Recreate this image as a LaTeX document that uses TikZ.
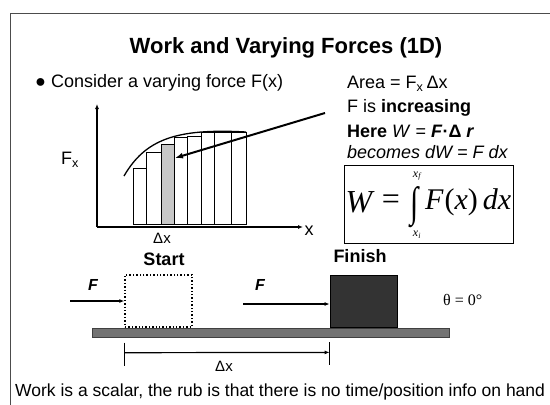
\documentclass[tikz,border=0pt]{standalone}
\usepackage{fontspec}
\setmainfont{Liberation Sans}
\newfontfamily\tmfont{Liberation Serif}
\usetikzlibrary{arrows.meta,positioning,calc}
\tikzset{
  wkframe/.style={line width=1.5pt, draw=black!70},
  wkaxis/.style={line width=1.1pt, draw=black, -{Latex[length=5pt,width=4pt]}},
  wkbar/.style={fill=white, draw=black, line width=0.6pt},
  wkshade/.style={fill=black!22, draw=black, line width=0.6pt},
  wkcurve/.style={line width=1.3pt, draw=black},
  wkpush/.style={line width=1.5pt, draw=black, -{Latex[length=5pt,width=4pt]}},
  wkpoint/.style={line width=2pt, draw=black, -{Latex[length=8pt,width=6pt]}},
  wktext/.style={font=\fontsize{18}{21}\selectfont, inner sep=0pt},
  wksmall/.style={font=\fontsize{15}{17}\selectfont, inner sep=0pt},
  wkmath/.style={font=\tmfont\fontsize{32}{36}\selectfont\itshape, inner sep=0pt},
  wklimit/.style={font=\tmfont\itshape\fontsize{12}{12}\selectfont, inner sep=0pt},
  wkground/.style={fill=black!55, draw=black!75, line width=1pt},
  wkblock/.style={fill=black!80, draw=black, line width=0.8pt},
  wkghost/.style={draw=black, line width=1.4pt, dotted},
  wklabel/.style={font=\bfseries\fontsize{18}{21}\selectfont, inner sep=0pt},
  wkforce/.style={font=\bfseries\itshape\fontsize{16}{18}\selectfont, inner sep=0pt},
}
\begin{document}
\begin{tikzpicture}[x=1pt,y=-1pt]
\useasboundingbox (0,0) rectangle (550,405);
% slide frame
\draw[wkframe] (10.5,405) -- (10.5,13.5) -- (550,13.5);
\node[font=\bfseries\fontsize{22}{25}\selectfont, inner sep=0pt] (title) at (286,48) {Work and Varying Forces (1D)};
\node[wktext, anchor=west] (bullet) at (35,83) {{\fontsize{18}{21}\selectfont ●}\kern5pt Consider a varying force F(x)};
% notes on the right
\node[wktext, anchor=west] (area) at (347,84) {Area = F\textsubscript{x}\,Δx};
\node[wktext, anchor=west] (incr) at (347,108) {F is \textbf{increasing}};
\node[wktext, anchor=west] (here) at (347,131) {\textbf{Here} \textit{W} = \textbf{\textit{F}·Δ \textit{r}}};
\node[wktext, anchor=west, font=\itshape\fontsize{18}{21}\selectfont] (dw) at (347,152) {becomes dW = F dx};
% formula box
\draw[line width=0.8pt] (344,165) rectangle (513,243);
\node[wkmath] (wsym) at (359,202) {W};
\node[font=\tmfont\fontsize{32}{36}\selectfont, inner sep=0pt] (eqsym) at (391,202) {=};
\node[font=\tmfont\fontsize{30}{30}\selectfont, inner sep=0pt, yscale=1.4] (intsym) at (415,207) {∫};
\node[wklimit] (xf) at (417,176) {x\textsubscript{f}};
\node[wklimit] (xi) at (417,235) {x\textsubscript{i}};
\node[wkmath, anchor=west, font=\tmfont\fontsize{30}{34}\selectfont\itshape] (fx) at (425,202) {F\kern1pt{\upshape(}x{\upshape)}\,dx};
% graph
\coordinate (org) at (97,227);
\draw[wkaxis] (org) -- (97,104);
\draw[wkaxis] (org) -- (303,227);
\node[wktext] (xlab) at (309,231) {x};
\node[wktext] (fxlab) at (70,160) {F\textsubscript{x}};
\foreach \xa/\xb/\yt in {133/146/168, 146/161/152, 174/187/137, 187/201/136, 201/214/132, 214/231/132, 231/246/132}
  \draw[wkbar] (\xa,224) rectangle (\xb,\yt);
\draw[wkshade] (161,224) rectangle (174,144);
\coordinate (tip) at (175,158);
\draw[wkcurve] (124,176) .. controls (145,140) and (175,128) .. (246,132);
\node[wksmall] (dxbar) at (162,238) {Δx};
\coordinate (lead) at (325,113);
\draw[wkpoint] (lead) -- (tip);
% sliding block
\node[wklabel] (start) at (164,259) {Start};
\node[wklabel] (finish) at (360,256) {Finish};
\draw[wkground] (92,328) rectangle (449,337);
\node[wkghost, minimum width=67pt, minimum height=52pt, inner sep=0pt] (ghost) at (158.5,301) {};
\node[wkblock, minimum width=67pt, minimum height=52pt, inner sep=0pt] (block) at (363.5,301) {};
\coordinate (push1) at (70,301);
\coordinate (push2) at (243,304);
\draw[wkpush] (push1) -- (ghost.west);
\draw[wkpush] (push2) -- (push2 -| block.west);
\node[wkforce] (f1) at (93,285) {F};
\node[wkforce] (f2) at (260,285) {F};
\node[font=\tmfont\fontsize{16}{18}\selectfont, inner sep=0pt, anchor=west] (theta) at (443,300) {θ = 0°};
% displacement
\draw[line width=0.8pt] (ghost.south west) ++(0,15) -- ++(0,23) coordinate (ta);
\draw[line width=0.8pt] (block.south west) ++(0,15) -- ++(0,23) coordinate (tb);
\draw[wkpush, line width=1.2pt] ($(ta)+(0,-13)$) -- ($(tb)+(0,-13)$);
\node[wksmall] (dxlow) at (224,366) {Δx};
\node[font=\fontsize{17.5}{20}\selectfont, inner sep=0pt, anchor=west] (note) at (15,392) {Work is a scalar, the rub is that there is no time/position info on hand};
\end{tikzpicture}
\end{document}
